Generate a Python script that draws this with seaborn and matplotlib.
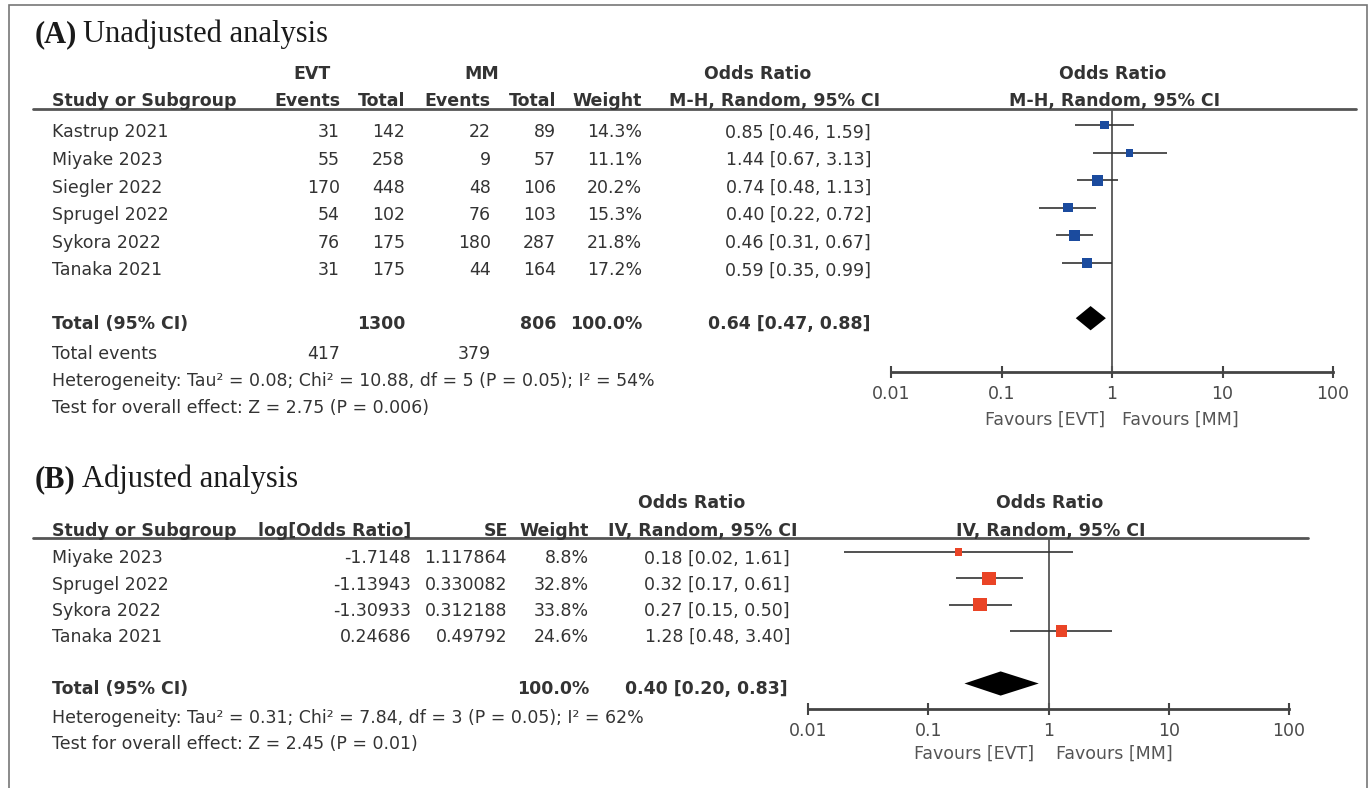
import numpy as np
import pandas as pd
import matplotlib
matplotlib.use("Agg")
import matplotlib.pyplot as plt
import seaborn as sns
from matplotlib.lines import Line2D
from matplotlib.patches import Rectangle

# ---------------- data ----------------
studies_a = ["Kastrup 2021", "Miyake 2023", "Siegler 2022", "Sprugel 2022", "Sykora 2022", "Tanaka 2021"]
evt_events = [31, 55, 170, 54, 76, 31]
evt_total = [142, 258, 448, 102, 175, 175]
mm_events = [22, 9, 48, 76, 180, 44]
mm_total = [89, 57, 106, 103, 287, 164]
weight_a = [14.3, 11.1, 20.2, 15.3, 21.8, 17.2]
or_a = [0.85, 1.44, 0.74, 0.40, 0.46, 0.59]
lo_a = [0.46, 0.67, 0.48, 0.22, 0.31, 0.35]
hi_a = [1.59, 3.13, 1.13, 0.72, 0.67, 0.99]
total_a = [0.64, 0.47, 0.88]
total_n_a = [1300, 806]
total_events_a = [417, 379]
het_a = "Heterogeneity: Tau² = 0.08; Chi² = 10.88, df = 5 (P = 0.05); I² = 54%"
test_a = "Test for overall effect: Z = 2.75 (P = 0.006)"

studies_b = ["Miyake 2023", "Sprugel 2022", "Sykora 2022", "Tanaka 2021"]
log_or_b = ["-1.7148", "-1.13943", "-1.30933", "0.24686"]
se_b = ["1.117864", "0.330082", "0.312188", "0.49792"]
weight_b = [8.8, 32.8, 33.8, 24.6]
or_b = [0.18, 0.32, 0.27, 1.28]
lo_b = [0.02, 0.17, 0.15, 0.48]
hi_b = [1.61, 0.61, 0.50, 3.40]
total_b = [0.40, 0.20, 0.83]
het_b = "Heterogeneity: Tau² = 0.31; Chi² = 7.84, df = 3 (P = 0.05); I² = 62%"
test_b = "Test for overall effect: Z = 2.45 (P = 0.01)"

tick_vals = [0.01, 0.1, 1, 10, 100]
tick_labels = ["0.01", "0.1", "1", "10", "100"]

# ---------------- style ----------------
sns.set_style("white")
plt.rcParams["font.family"] = ["DejaVu Sans"]

W, H = 1369, 788
fig = plt.figure(figsize=(W / 100, H / 100), dpi=100)
fig.patch.set_facecolor("white")

TXT = "#333333"
BLUE = "#1b4b9e"
RED = "#ea4426"
FS = 12.5
SANS = "DejaVu Sans"
SERIF = "Liberation Serif"


def fx(x):
    return x / W


def fy(y):
    return 1 - y / H


def put(x, y, s, ha="left", bold=False, size=FS, color=TXT, family=SANS, capfrac=0.729):
    yb = y + 0.5 * capfrac * size * 100 / 72
    return fig.text(fx(x), fy(yb), s, ha=ha, va="baseline", fontsize=size,
                    fontweight="bold" if bold else "normal", color=color, family=family)


def hline_px(x0, x1, y, lw=2.0, color="#555555"):
    fig.add_artist(Line2D([fx(x0), fx(x1)], [fy(y), fy(y)], transform=fig.transFigure,
                          color=color, lw=lw))


def title(x, y, label, rest, size=22):
    t = put(x, y, label, bold=True, size=size, family=SERIF, capfrac=0.662, color="#1a1a1a")
    fig.canvas.draw()
    bb = t.get_window_extent(renderer=fig.canvas.get_renderer())
    put(bb.x1 + 6, y, rest, size=size, family=SERIF, capfrac=0.662, color="#1a1a1a")


def forest(x0, x1, top, bot, y_first, dy, ors, los, his, weights, color, tot, half):
    ax = fig.add_axes([fx(x0), fy(bot), (x1 - x0) / W, (bot - top) / H])
    ax.patch.set_alpha(0)
    rows = np.arange(len(ors))
    df = pd.DataFrame({"OR": ors, "row": rows, "w": weights})
    ax.hlines(rows, los, his, color="#333333", lw=1.2, zorder=2)
    sns.scatterplot(data=df, x="OR", y="row", size="w",
                    sizes={w: 2.9 * w for w in weights}, marker="s", color=color,
                    linewidth=0, legend=False, ax=ax, zorder=3)
    r = len(ors) + 1
    ax.fill([tot[1], tot[0], tot[2], tot[0]], [r, r - half, r, r + half],
            color="black", lw=0, zorder=3)
    ax.axvline(1, color="#555555", lw=1.3, zorder=1)
    ax.set_xscale("log")
    ax.set_xlim(0.01, 100)
    ax.set_ylim((bot - y_first) / dy, (top - y_first) / dy)
    ax.set_xticks(tick_vals)
    ax.set_xticklabels(tick_labels)
    ax.minorticks_off()
    ax.set_yticks([])
    ax.set_xlabel("")
    ax.set_ylabel("")
    for s in ["top", "left", "right"]:
        ax.spines[s].set_visible(False)
    ax.spines["bottom"].set_color("#444444")
    ax.spines["bottom"].set_linewidth(2)
    ax.tick_params(axis="x", which="major", bottom=True, direction="inout", length=9,
                   width=1.5, color="#444444", labelsize=FS, labelcolor="#4a4a4a", pad=5)
    return ax


# border
fig.add_artist(Rectangle((fx(9), fy(800)), fx(1367) - fx(9), fy(5) - fy(800),
                         transform=fig.transFigure, fill=False, edgecolor="#777777", lw=1.2))

# ================= Panel A =================
title(35, 32, "(A)", "Unadjusted analysis")
put(312, 73, "EVT", ha="center", bold=True)
put(482, 73, "MM", ha="center", bold=True)
put(758, 73, "Odds Ratio", ha="center", bold=True)
put(1113, 73, "Odds Ratio", ha="center", bold=True)
hdr_y = 100
put(52, hdr_y, "Study or Subgroup", bold=True)
put(340, hdr_y, "Events", ha="right", bold=True)
put(405, hdr_y, "Total", ha="right", bold=True)
put(491, hdr_y, "Events", ha="right", bold=True)
put(556, hdr_y, "Total", ha="right", bold=True)
put(642, hdr_y, "Weight", ha="right", bold=True)
put(880, hdr_y, "M-H, Random, 95% CI", ha="right", bold=True)
put(1115, hdr_y, "M-H, Random, 95% CI", ha="center", bold=True)
hline_px(33, 1356, 109)

for i, name in enumerate(studies_a):
    y = 131 + 27.6 * i
    put(52, y, name)
    put(340, y, str(evt_events[i]), ha="right")
    put(405, y, str(evt_total[i]), ha="right")
    put(491, y, str(mm_events[i]), ha="right")
    put(556, y, str(mm_total[i]), ha="right")
    put(642, y, f"{weight_a[i]:.1f}%", ha="right")
    put(871, y, f"{or_a[i]:.2f} [{lo_a[i]:.2f}, {hi_a[i]:.2f}]", ha="right")

put(52, 323, "Total (95% CI)", bold=True)
put(405, 323, str(total_n_a[0]), ha="right", bold=True)
put(556, 323, str(total_n_a[1]), ha="right", bold=True)
put(642, 323, "100.0%", ha="right", bold=True)
put(871, 323, f"{total_a[0]:.2f} [{total_a[1]:.2f}, {total_a[2]:.2f}]", ha="right", bold=True)
put(52, 353, "Total events")
put(340, 353, str(total_events_a[0]), ha="right")
put(491, 353, str(total_events_a[1]), ha="right")
put(52, 380, het_a)
put(52, 407, test_a)

forest(891, 1333, 109, 372, 125, 27.6, or_a, lo_a, hi_a, weight_a, BLUE, total_a, 0.44)
put(1105, 418, "Favours [EVT]", ha="right", color="#555555")
put(1122, 418, "Favours [MM]", ha="left", color="#555555")

# ================= Panel B =================
title(35, 477, "(B)", "Adjusted analysis")
put(692, 502, "Odds Ratio", ha="center", bold=True)
put(1050, 502, "Odds Ratio", ha="center", bold=True)
hb = 530
put(52, hb, "Study or Subgroup", bold=True)
put(411, hb, "log[Odds Ratio]", ha="right", bold=True)
put(508, hb, "SE", ha="right", bold=True)
put(589, hb, "Weight", ha="right", bold=True)
put(797, hb, "IV, Random, 95% CI", ha="right", bold=True)
put(1051, hb, "IV, Random, 95% CI", ha="center", bold=True)
hline_px(33, 1308, 538)

for i, name in enumerate(studies_b):
    y = 557 + 26.3 * i
    put(52, y, name)
    put(411, y, log_or_b[i], ha="right")
    put(507, y, se_b[i], ha="right")
    put(589, y, f"{weight_b[i]:.1f}%", ha="right")
    put(790, y, f"{or_b[i]:.2f} [{lo_b[i]:.2f}, {hi_b[i]:.2f}]", ha="right")

put(52, 688, "Total (95% CI)", bold=True)
put(589, 688, "100.0%", ha="right", bold=True)
put(788, 688, f"{total_b[0]:.2f} [{total_b[1]:.2f}, {total_b[2]:.2f}]", ha="right", bold=True)
put(52, 717, het_b)
put(52, 743, test_b)

forest(808, 1289, 538, 709, 552, 26.3, or_b, lo_b, hi_b, weight_b, RED, total_b, 0.46)
put(1034, 752, "Favours [EVT]", ha="right", color="#555555")
put(1056, 752, "Favours [MM]", ha="left", color="#555555")

fig.savefig("out.png", dpi=100, facecolor="white")
